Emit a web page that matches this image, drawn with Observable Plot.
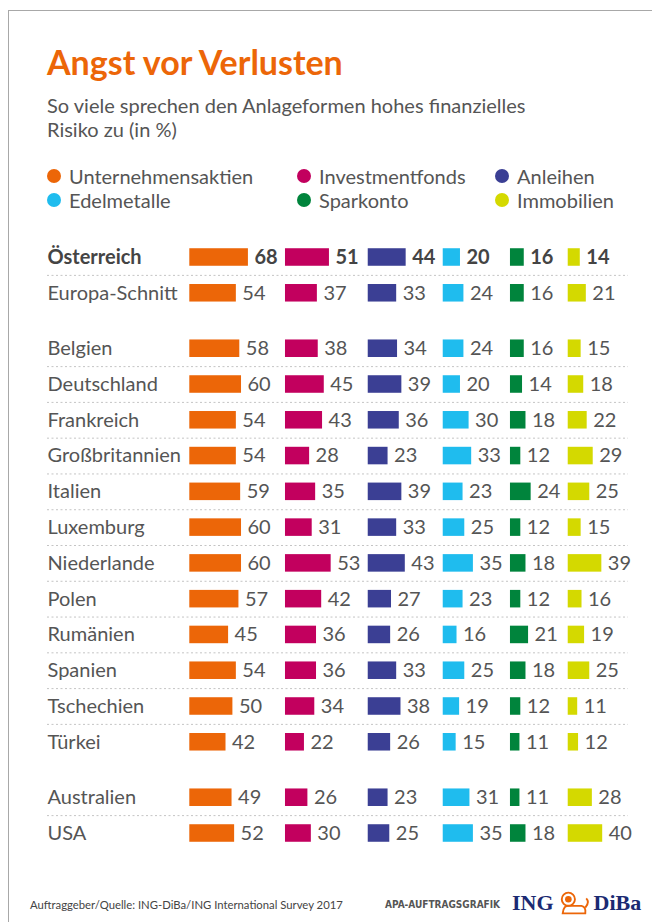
<!DOCTYPE html>
<html>
<head>
<meta charset="utf-8">
<script src="https://cdn.jsdelivr.net/npm/d3@7"></script>
<script src="https://cdn.jsdelivr.net/npm/@observablehq/plot@0.6"></script>
<style>
  html, body { margin: 0; padding: 0; background: #fff; }
  body { width: 652px; height: 922px; position: relative; overflow: hidden; font-family: Lato, "Open Sans", sans-serif; color: #555; }
  .frame { position: absolute; left: 8px; top: 10px; width: 650px; height: 920px; border-top: 1px solid #a8a8a8; border-left: 1px solid #a8a8a8; }
  .title { position: absolute; left: 47px; top: 42px; font-size: 34px; font-weight: 700; color: #ec6608; line-height: 40px; white-space: nowrap; }
  .sub { position: absolute; left: 47px; top: 93px; font-size: 20px; line-height: 24px; color: #555; white-space: nowrap; }
  .legend { position: absolute; left: 47px; top: 164px; font-size: 20px; line-height: 24px; color: #555; }
  .legend .item { position: absolute; white-space: nowrap; display: flex; align-items: center; }
  .legend .dot { width: 14px; height: 14px; border-radius: 50%; margin-right: 8px; display: inline-block; }
  #chart { position: absolute; left: 0; top: 230px; }
  .source { position: absolute; left: 30px; top: 898px; font-size: 11.3px; color: #444; white-space: nowrap; }
  .apa { position: absolute; left: 385px; top: 899px; font-size: 10px; font-weight: 700; color: #555; white-space: nowrap; font-family: "Liberation Sans Narrow", "DejaVu Sans Condensed", sans-serif; }
  .logo { position: absolute; left: 512px; top: 890px; display: flex; align-items: center; font-family: "Liberation Serif", "DejaVu Serif", serif; font-weight: 700; font-size: 22px; color: #1b2a72; white-space: nowrap; }
</style>
</head>
<body>
<div class="frame"></div>
<div class="title">Angst vor Verlusten</div>
<div class="sub">So viele sprechen den Anlageformen hohes finanzielles<br>Risiko zu (in %)</div>
<div class="legend" id="legend"></div>
<div id="chart"></div>
<div class="source">Auftraggeber/Quelle: ING-DiBa/ING International Survey 2017</div>
<div class="apa">APA-AUFTRAGSGRAFIK</div>
<div class="logo">ING<svg width="32" height="26" viewBox="0 0 34 26" style="margin:0 4px"><g fill="none" stroke="#ec6608" stroke-width="2"><circle cx="11" cy="9" r="7"/><path d="M5 24 Q6 15 12 16 L25 16 Q30 17 29 24 Z"/><path d="M29 18 Q34 12 30 8"/></g><circle cx="11" cy="9" r="3.5" fill="#ec6608"/></svg>DiBa</div>
<script>
// ---- data ----
const categories = ["Unternehmensaktien", "Investmentfonds", "Anleihen", "Edelmetalle", "Sparkonto", "Immobilien"];
const colors = ["#ec6608", "#c2005e", "#3b3f94", "#1fbcee", "#00843c", "#d4d900"];
const groups = [
  ["Österreich", "Europa-Schnitt"],
  ["Belgien", "Deutschland", "Frankreich", "Großbritannien", "Italien", "Luxemburg", "Niederlande", "Polen", "Rumänien", "Spanien", "Tschechien", "Türkei"],
  ["Australien", "USA"]
];
const unternehmensaktien = [68, 54, 58, 60, 54, 54, 59, 60, 60, 57, 45, 54, 50, 42, 49, 52];
const investmentfonds    = [51, 37, 38, 45, 43, 28, 35, 31, 53, 42, 36, 36, 34, 22, 26, 30];
const anleihen           = [44, 33, 34, 39, 36, 23, 39, 33, 43, 27, 26, 33, 38, 26, 23, 25];
const edelmetalle        = [20, 24, 24, 20, 30, 33, 23, 25, 35, 23, 16, 25, 19, 15, 31, 35];
const sparkonto          = [16, 16, 16, 14, 18, 12, 24, 12, 18, 12, 21, 18, 12, 11, 11, 18];
const immobilien         = [14, 21, 15, 18, 22, 29, 25, 15, 39, 16, 19, 25, 11, 12, 28, 40];
const series = [unternehmensaktien, investmentfonds, anleihen, edelmetalle, sparkonto, immobilien];

// ---- layout helpers ----
const groupStep = 1.55;   // row spacing between groups (in rows)
const columnGap = 43;     // gap between column blocks (in value units)

const rows = [];
let pos = 0;
groups.forEach((g, gi) => {
  if (gi > 0) pos += groupStep - 1;
  g.forEach((c, ci) => {
    rows.push({country: c, idx: pos, group: gi, last: ci === g.length - 1});
    pos += 1;
  });
});
const separators = [];
rows.forEach((r, i) => { if (!r.last) separators.push((r.idx + rows[i + 1].idx) / 2); });

const offsets = [];
let acc = 0;
series.forEach((s, k) => { offsets.push(acc); acc += d3.max(s) + columnGap; });

const cells = rows.flatMap((r, i) => categories.map((c, k) => ({
  country: r.country, idx: r.idx, cat: c, value: series[k][i], x0: offsets[k], bold: i === 0
})));

// legend
const leg = document.getElementById("legend");
const legPos = [[0, 0], [250, 0], [448, 0], [0, 24], [250, 24], [448, 24]];
categories.forEach((c, k) => {
  const it = document.createElement("div");
  it.className = "item";
  it.style.left = legPos[k][0] + "px";
  it.style.top = legPos[k][1] + "px";
  it.innerHTML = `<span class="dot" style="background:${colors[k]}"></span>${c}`;
  leg.appendChild(it);
});

const maxIdx = rows[rows.length - 1].idx;
const pxPerUnit = 0.862;
const xEnd = 500;

const chart = Plot.plot({
  width: 652,
  height: 630,
  marginLeft: 47,
  marginRight: 24,
  marginTop: 0,
  marginBottom: 0,
  style: {fontFamily: "Lato, 'Open Sans', sans-serif", background: "transparent"},
  x: {domain: [0, xEnd], range: [189.3, 189.3 + pxPerUnit * xEnd], axis: null},
  y: {domain: [0, maxIdx], range: [27, 603], axis: null},
  color: {domain: categories, range: colors},
  marks: [
    Plot.ruleY(separators, {y: d => d, stroke: "#c4c4c4", strokeDasharray: "2,2.5", strokeWidth: 1}),
    Plot.rect(cells, {x1: "x0", x2: d => d.x0 + d.value, y1: d => d.idx - 0.245, y2: d => d.idx + 0.245, fill: "cat"}),
    Plot.text(cells.filter(d => !d.bold), {x: d => d.x0 + d.value, y: "idx", text: d => String(d.value), textAnchor: "start", dx: 6, fill: "#555", fontSize: 20}),
    Plot.text(cells.filter(d => d.bold), {x: d => d.x0 + d.value, y: "idx", text: d => String(d.value), textAnchor: "start", dx: 6, fill: "#444", fontSize: 20, fontWeight: 700}),
    Plot.text(rows.filter((r, i) => i !== 0), {y: "idx", text: "country", frameAnchor: "left", textAnchor: "start", fill: "#555", fontSize: 20}),
    Plot.text(rows.filter((r, i) => i === 0), {y: "idx", text: "country", frameAnchor: "left", textAnchor: "start", fill: "#444", fontSize: 20, fontWeight: 700})
  ]
});
document.getElementById("chart").appendChild(chart);
</script>
</body>
</html>
